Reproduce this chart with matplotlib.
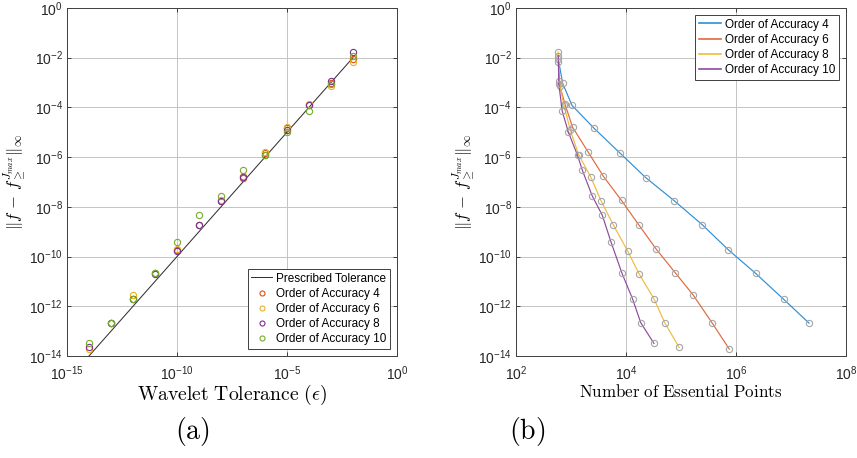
import numpy as np
import matplotlib
matplotlib.use("Agg")
from matplotlib import pyplot as plt
from matplotlib.ticker import NullLocator

plt.rcParams["font.family"] = "Liberation Sans"
plt.rcParams["mathtext.fontset"] = "custom"
plt.rcParams["mathtext.rm"] = "Liberation Sans"
plt.rcParams["mathtext.it"] = "Liberation Sans:italic"
plt.rcParams["axes.unicode_minus"] = False

# Wavelet tolerances (same for every order)
tol = [1e-2, 1e-3, 1e-4, 1e-5, 1e-6, 1e-7, 1e-8, 1e-9, 1e-10, 1e-11, 1e-12, 1e-13, 1e-14]

# Order of accuracy 4 (no run at 1e-14)
err4 = [8.9e-3, 9.3e-4, 1.2e-4, 1.45e-5, 1.4e-6, 1.5e-7, 1.75e-8, 1.9e-9, 1.9e-10,
        2.1e-11, 1.9e-12, 2.1e-13]
pts4 = [589, 708, 1047, 2630, 7940, 22900, 75900, 245000, 724000, 2.29e6, 7.41e6, 2.14e7]

# Order of accuracy 6
err6 = [6.9e-3, 7.2e-4, 1.4e-4, 1.6e-5, 1.65e-6, 1.7e-7, 1.8e-8, 1.8e-9, 2.0e-10,
        2.2e-11, 2.9e-12, 2.1e-13, 1.9e-14]
pts6 = [589, 631, 776, 1072, 2040, 3890, 8320, 17400, 35500, 79400, 166000, 372000, 759000]

# Order of accuracy 8
err8 = [1.7e-2, 1.2e-3, 1.3e-4, 1.2e-5, 1.26e-6, 1.6e-7, 1.7e-8, 1.9e-9, 1.7e-10,
        2.0e-11, 2.0e-12, 2.1e-13, 2.2e-14]
pts8 = [589, 603, 741, 977, 1380, 2290, 3550, 5890, 10700, 17400, 32400, 51300, 93300]

# Order of accuracy 10
err10 = [1.2e-2, 8.7e-4, 7.4e-5, 1.07e-5, 1.17e-6, 2.9e-7, 2.7e-8, 4.6e-9, 3.8e-10,
         2.1e-11, 2.0e-12, 2.2e-13, 3.2e-14]
pts10 = [589, 603, 692, 891, 1320, 1620, 2450, 3720, 5370, 8510, 13200, 18600, 32400]

orders = [4, 6, 8, 10]
errs = [err4, err6, err8, err10]
pts = [pts4, pts6, pts8, pts10]

ylabel = r"$\Vert f\,-\,f_{\geq}^{J_{max}}\Vert_{\infty}$"


def style_axes(ax):
    ax.set_xscale("log")
    ax.set_yscale("log")
    ax.set_ylim(1e-14, 1)
    ax.set_yticks([10.0 ** k for k in range(-14, 1, 2)])
    ax.yaxis.set_minor_locator(NullLocator())
    ax.xaxis.set_minor_locator(NullLocator())
    ax.grid(True, color="#c4c4c4", lw=0.7)
    ax.set_axisbelow(True)
    ax.tick_params(which="both", direction="in", top=True, right=True, length=3,
                   width=0.6, labelsize=10, colors="0.15", pad=3)
    ax.tick_params(axis="x", pad=6)
    for sp in ax.spines.values():
        sp.set_color("0.25")
        sp.set_linewidth(0.7)


def style_legend(leg):
    leg.get_frame().set_edgecolor("0.25")
    leg.get_frame().set_linewidth(0.7)


fig = plt.figure(figsize=(8.57, 4.58), dpi=100)
ax1 = fig.add_axes([0.0782, 0.2227, 0.385, 0.760])
ax2 = fig.add_axes([0.602, 0.2227, 0.385, 0.760])

# (a) error against tolerance
left_colors = ["#D95319", "#EDB120", "#7E2F8E", "#77AC30"]
ax1.plot(tol, tol, color="0.2", lw=0.75, label="Prescribed Tolerance")
for order, err, c in zip(orders, errs, left_colors):
    ax1.plot(tol[:len(err)], err, "o", mfc="none", mec=c, ms=4.5, mew=0.8,
             label=f"Order of Accuracy {order}")
style_axes(ax1)
ax1.set_xlim(1e-15, 1)
ax1.set_xticks([1e-15, 1e-10, 1e-5, 1])
ax1.set_xlabel(r"$\mathrm{Wavelet\ Tolerance\ }(\epsilon)$", fontsize=14.2,
               math_fontfamily="cm", labelpad=0)
ax1.set_ylabel(ylabel, fontsize=12, math_fontfamily="cm", labelpad=1)
leg1 = ax1.legend(loc="lower right", fontsize=8.5, handlelength=1.8, handletextpad=0.3,
                  borderpad=0.3, labelspacing=0.27, fancybox=False, framealpha=1,
                  borderaxespad=0.6, markerscale=0.8)
style_legend(leg1)

# (b) error against number of essential points
right_colors = ["#2f8fd4", "#e0693a", "#f0bb3c", "#8e4a9e"]
for order, err, p, c in zip(orders, errs, pts, right_colors):
    ax2.plot(p, err, "-", color=c, lw=0.85, label=f"Order of Accuracy {order}")
    ax2.plot(p, err, "o", mfc="none", mec="0.65", ms=4.5, mew=0.8)
style_axes(ax2)
ax2.set_xlim(1e2, 1e8)
ax2.set_xticks([1e2, 1e4, 1e6, 1e8])
ax2.set_xlabel(r"$\mathrm{Number\ of\ Essential\ Points}$", fontsize=12.2,
               math_fontfamily="cm", labelpad=0)
ax2.set_ylabel(ylabel, fontsize=12, math_fontfamily="cm", labelpad=1)
leg2 = ax2.legend(loc="upper right", fontsize=8.5, handlelength=1.9, handletextpad=0.3,
                  borderpad=0.3, labelspacing=0.27, fancybox=False, framealpha=1,
                  borderaxespad=0.6)
style_legend(leg2)
for line in leg2.get_lines():
    line.set_linewidth(1.2)

fig.text(0.224, 0.057, r"$\mathrm{(a)}$", fontsize=20, ha="center", va="center",
         math_fontfamily="cm")
fig.text(0.615, 0.057, r"$\mathrm{(b)}$", fontsize=20, ha="center", va="center",
         math_fontfamily="cm")

fig.savefig("out.png", dpi=100)
